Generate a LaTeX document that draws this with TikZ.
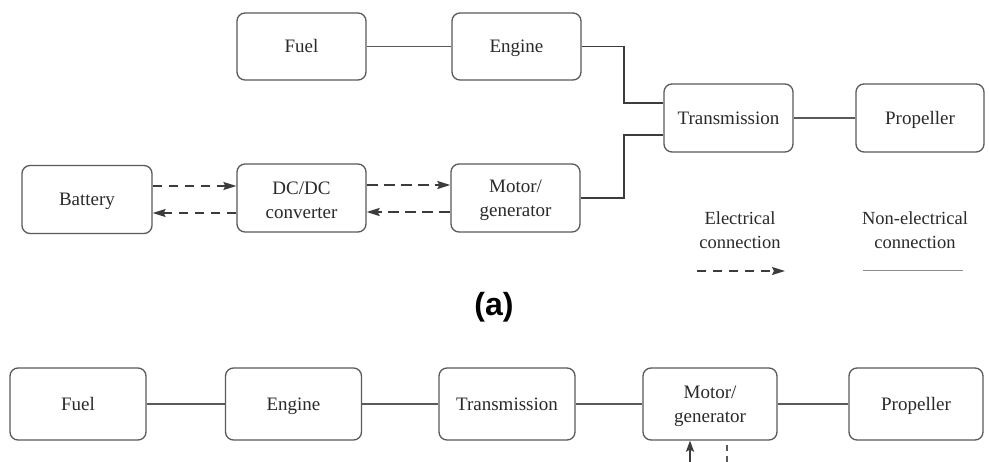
\documentclass[tikz,border=0pt]{standalone}
\usepackage{fontspec}
\setmainfont{Liberation Serif}
\newfontfamily\labelsans{Liberation Sans}
\usetikzlibrary{arrows.meta}
\definecolor{boxline}{HTML}{5A5A5A}
\definecolor{txt}{HTML}{2A2A2A}
\definecolor{wire}{HTML}{3C3C3C}
% taller first line so two-line labels sit centred in their boxes
\newcommand{\firstline}{\rule{0pt}{18pt}}
\tikzset{
  unit/.style={draw=boxline, line width=1.3pt, rounded corners=8pt, fill=white,
    text=txt, inner sep=0pt, font=\fontsize{19}{24}\selectfont},
  oneline/.style={text height=13pt, text depth=1pt},
  twoline/.style={align=center},
  unitA/.style={unit, minimum width=129pt, minimum height=67pt},
  unitB/.style={unit, minimum width=136pt, minimum height=72pt},
  mech/.style={draw=boxline, line width=1.2pt},
  shaft/.style={draw=wire, line width=1.9pt},
  elec/.style={draw=wire, line width=1.3pt, dash pattern=on 9pt off 7pt,
    -{Stealth[length=13pt,width=8pt,inset=2pt]}},
  elecbold/.style={draw=wire, line width=2pt, dash pattern=on 11pt off 6pt,
    -{Stealth[length=13pt,width=8pt,inset=2pt]}},
  legendtext/.style={text=txt, align=center, font=\fontsize{18.5}{24}\selectfont}
}
\begin{document}
\begin{tikzpicture}[x=1pt,y=-1pt]
  \useasboundingbox[fill=white] (0,0) rectangle (989,461);

  % ---- series/parallel layout (a) ----
  \node[unitA, oneline] (fuelA)   at (301.5,46.5) {Fuel};
  \node[unitA, oneline] (engineA) at (516.5,46.5) {Engine};
  \node[unitA, oneline, minimum height=68pt] (transA) at (728.5,118) {Transmission};
  \node[unitA, oneline, minimum width=128pt, minimum height=68pt] (propA)  at (920,118) {Propeller};
  \node[unitA, oneline, minimum width=130pt, minimum height=68pt] (batA)   at (87,199.5) {Battery};
  \node[unitA, twoline, minimum height=68pt] (dcA)    at (301.5,198) {\firstline DC/DC\\converter};
  \node[unitA, twoline, minimum height=68pt] (motorA) at (515.5,198) {\firstline Motor/\\generator};

  \coordinate (jx) at (624,0);

  \draw[mech] (fuelA) -- (engineA);
  \draw[mech] (transA) -- (propA);
  \draw[shaft] (engineA.east) -| ([yshift=15pt]transA.west -| jx) -- ([yshift=15pt]transA.west);
  \draw[shaft] (motorA.east) -| ([yshift=-17pt]transA.west -| jx) -- ([yshift=-17pt]transA.west);

  \draw[elec] ([yshift=13.5pt]batA.east) -- ([yshift=13.5pt]batA.east -| dcA.west);
  \draw[elec] ([yshift=-13.5pt]batA.east -| dcA.west) -- ([yshift=-13.5pt]batA.east);
  \draw[elecbold] ([yshift=13pt]dcA.east) -- ([yshift=13pt]dcA.east -| motorA.west);
  \draw[elecbold] ([yshift=-14pt]dcA.east -| motorA.west) -- ([yshift=-14pt]dcA.east);

  % legend
  \node[legendtext] (legE) at (740,230) {Electrical\\connection};
  \node[legendtext] (legN) at (915,230) {Non-electrical\\connection};
  \coordinate (le1) at (697,271);
  \coordinate (le2) at (785,271);
  \coordinate (ln1) at (863,270);
  \coordinate (ln2) at (963,270);
  \draw[elec] (le1) -- (le2);
  \draw[draw=boxline!70, line width=1pt] (ln1) -- (ln2);

  \node[font=\labelsans\bfseries\fontsize{32}{36}\selectfont, text=black] (capA) at (494,307) {(a)};

  % ---- inline layout ----
  \node[unitB, oneline] (fuelB)   at (78,404)  {Fuel};
  \node[unitB, oneline] (engineB) at (293.5,404) {Engine};
  \node[unitB, oneline] (transB)  at (507,404) {Transmission};
  \node[unitB, twoline, minimum width=134pt] (motorB) at (710,404) {\firstline Motor/\\generator};
  \node[unitB, oneline, minimum width=134pt] (propB)  at (916,404) {Propeller};

  \draw[mech] (fuelB) -- (engineB);
  \draw[mech] (engineB) -- (transB);
  \draw[mech] (transB) -- (motorB);
  \draw[mech] (motorB) -- (propB);

  \coordinate (inB) at (690,463);
  \coordinate (outB) at (727,463);
  \draw[draw=wire, line width=1.8pt, -{Stealth[length=11pt,width=8pt,inset=2pt]}] (inB) -- (inB |- motorB.south);
  \draw[draw=boxline, line width=1.2pt, dash pattern=on 6pt off 5pt] ([yshift=-4pt]outB |- motorB.south) -- (outB);
\end{tikzpicture}
\end{document}
